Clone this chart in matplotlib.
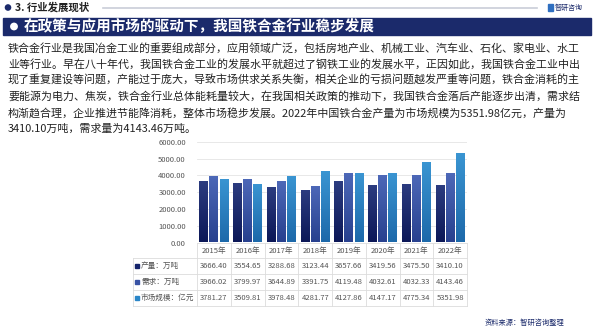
import numpy as np
import matplotlib.pyplot as plt
from matplotlib.patches import Rectangle, Circle

plt.rcParams['font.family'] = ['Noto Sans CJK SC', 'DejaVu Sans']

# data
years = ["2015年", "2016年", "2017年", "2018年", "2019年", "2020年", "2021年", "2022年"]
production = [3666.40, 3554.65, 3288.68, 3123.44, 3657.66, 3419.56, 3475.50, 3410.10]
demand = [3966.02, 3799.97, 3644.89, 3391.75, 4119.48, 4032.61, 4032.33, 4143.46]
market = [3781.27, 3509.81, 3978.48, 4281.77, 4127.86, 4147.17, 4775.34, 5351.98]
series_names = ["产量：万吨", "需求：万吨", "市场规模：亿元"]
yticks = [0, 1000, 2000, 3000, 4000, 5000, 6000]

header = "3. 行业发展现状"
title = "在政策与应用市场的驱动下，我国铁合金行业稳步发展"
para_lines = [
    "铁合金行业是我国冶金工业的重要组成部分，应用领域广泛，包括房地产业、机械工业、汽车业、石化、家电业、水工",
    "业等行业。早在八十年代，我国铁合金工业的发展水平就超过了钢铁工业的发展水平，正因如此，我国铁合金工业中出",
    "现了重复建设等问题，产能过于庞大，导致市场供求关系失衡，相关企业的亏损问题越发严重等问题，铁合金消耗的主",
    "要能源为电力、焦炭，铁合金行业总体能耗量较大，在我国相关政策的推动下，我国铁合金落后产能逐步出清，需求结",
    "构渐趋合理，企业推进节能降消耗，整体市场稳步发展。2022年中国铁合金产量为市场规模为5351.98亿元，产量为",
    "3410.10万吨，需求量为4143.46万吨。",
]
source = "资料来源：智研咨询整理"

navy = "#1b2a6b"
# (top, bottom) gradient colours per series
grads = [("#2c3c80", "#0c1858"), ("#4d68b8", "#28418f"), ("#3a95d2", "#1d69aa")]
swatch = ["#14236b", "#3852a4", "#2a86c8"]

fig = plt.figure(figsize=(6, 3.35), dpi=100)
bg = fig.add_axes([0, 0, 1, 1])
bg.set_xlim(0, 600)
bg.set_ylim(335, 0)
bg.axis('off')

# header line
bg.add_patch(Circle((8, 7.5), 2.6, color=navy))
bg.text(15, 7.5, header, fontsize=7.5, fontweight='bold', color="#222222", va='center')
bg.plot([103, 537], [7.5, 7.5], color="#c9cdd8", lw=1.2)
bg.add_patch(Rectangle((548, 4), 5, 7, color="#2f6fc0"))
bg.text(555, 7.5, "智研咨询", fontsize=5, color=navy, va='center')

# title bar
bg.add_patch(Rectangle((3, 18), 588, 17, color=navy))
bg.add_patch(Circle((14, 26.5), 3.2, color="white"))
bg.text(24, 26.5, title, fontsize=10.5, fontweight='bold', color="white", va='center')

# paragraph
for i, line in enumerate(para_lines):
    bg.text(8, 48 + i * 16.2, line, fontsize=7.9, color="#222222", va='center')

# chart
ax = fig.add_axes([197 / 600, (335 - 242.5) / 335, 270 / 600, 100.8 / 335])
x = np.arange(len(years))
w = 0.26
off = [-0.3, 0, 0.3]
for k, vals in enumerate([production, demand, market]):
    bars = ax.bar(x + off[k], vals, width=w, color='none', zorder=3)
    top, bot = grads[k]
    cmap = plt.matplotlib.colors.LinearSegmentedColormap.from_list("g", [bot, top])
    for b in bars:
        x0, y0 = b.get_x(), b.get_y()
        im = ax.imshow(np.linspace(0, 1, 50).reshape(-1, 1), cmap=cmap, origin='lower',
                       extent=[x0, x0 + b.get_width(), y0, y0 + b.get_height()],
                       aspect='auto', zorder=3)
        im.set_clip_path(b)
ax.set_xlim(-0.5, len(years) - 0.5)
ax.set_ylim(0, 6000)
ax.set_yticks(yticks)
ax.set_yticklabels([f"{v:.2f}" for v in yticks], fontsize=5.5, color="#555555")
ax.set_xticks([])
ax.tick_params(axis='y', length=0, pad=8)
ax.grid(axis='y', color="#e4e4e4", lw=0.6, zorder=0)
for s in ax.spines.values():
    s.set_visible(False)

# table under the chart
col_left, col_w = 197, 270 / len(years)
lab_left = 133
row_top = [243, 258, 274, 290]
row_h = 16
tcol = "#dcdcdc"
tx = "#555555"
for j, yr in enumerate(years):
    bg.text(col_left + (j + 0.5) * col_w, row_top[0] + 7.5, yr, fontsize=5.5, color=tx,
            ha='center', va='center')
for i, vals in enumerate([production, demand, market]):
    yc = row_top[i + 1] + row_h / 2
    bg.add_patch(Rectangle((lab_left + 2, yc - 2.3), 4.2, 4.6, color=swatch[i]))
    bg.text(lab_left + 8, yc, series_names[i], fontsize=5.5, color=tx, va='center')
    for j, v in enumerate(vals):
        bg.text(col_left + (j + 0.5) * col_w, yc, f"{v:.2f}", fontsize=5.5, color=tx,
                ha='center', va='center')
right = col_left + 270
bottom = row_top[-1] + row_h
bg.plot([col_left, right], [row_top[0], row_top[0]], color=tcol, lw=0.6)
for yl in row_top[1:] + [bottom]:
    bg.plot([lab_left, right], [yl, yl], color=tcol, lw=0.6)
for j in range(len(years) + 1):
    bg.plot([col_left + j * col_w] * 2, [row_top[0], bottom], color=tcol, lw=0.6)
bg.plot([lab_left, lab_left], [row_top[1], bottom], color=tcol, lw=0.6)

bg.text(564, 323, source, fontsize=5.2, color=navy, ha='right', va='center')

fig.savefig("out.png", dpi=100)
